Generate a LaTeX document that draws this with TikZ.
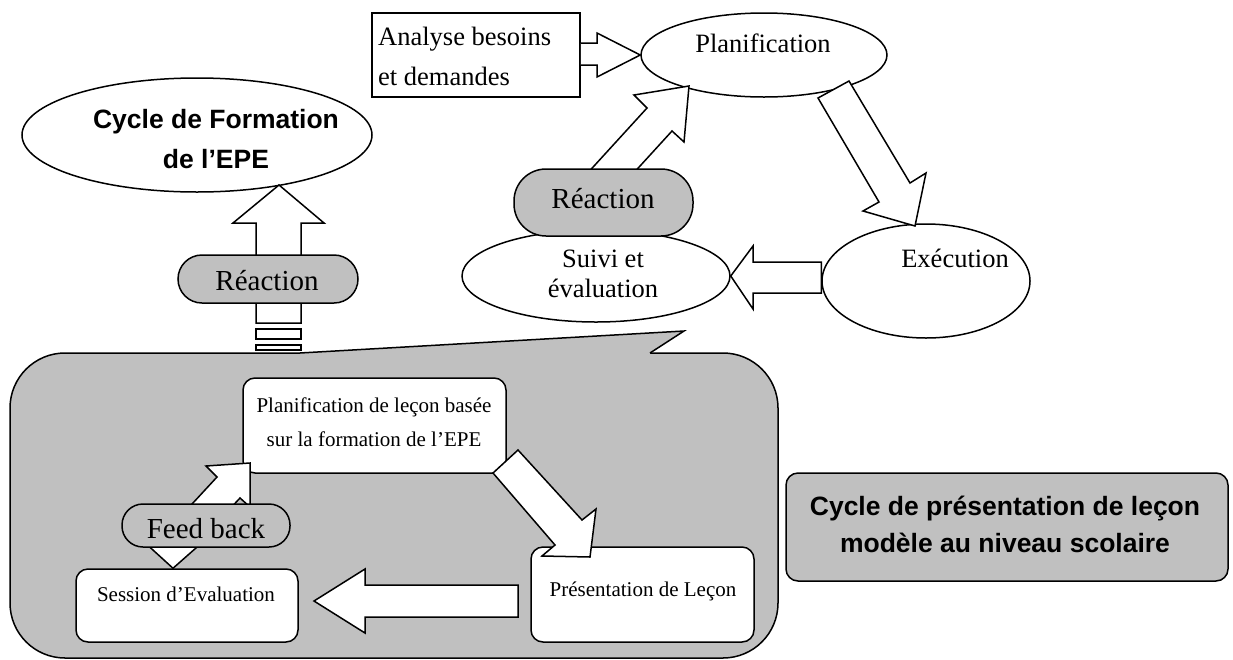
\documentclass[tikz,border=0pt]{standalone}
\usepackage{fontspec}
\setmainfont{Liberation Serif}
\newfontfamily\headfont{Liberation Sans}
\usetikzlibrary{shapes.geometric}
\definecolor{panelgray}{HTML}{C0C0C0}

\tikzset{
  outline/.style={draw=black, line width=1.5pt, line join=miter},
  blockarrow/.style={outline, fill=white},
  oval/.style={ellipse, outline, fill=white, inner sep=0pt},
  pill/.style={rectangle, outline, fill=panelgray, inner sep=0pt},
  card/.style={rectangle, outline, fill=white, rounded corners=12pt, inner sep=0pt},
  plainbox/.style={rectangle, outline, fill=white, inner sep=0pt},
  txt/.style={anchor=base, inner sep=0pt, font=\fontsize{26.5}{30}\selectfont},
  txtleft/.style={anchor=base west, inner sep=0pt, font=\fontsize{26.5}{30}\selectfont},
  pilltxt/.style={anchor=base, inner sep=0pt, font=\fontsize{29}{32}\selectfont},
  smalltxt/.style={anchor=base, inner sep=0pt, font=\fontsize{21}{24}\selectfont},
  headtxt/.style={anchor=base, inner sep=0pt, font=\headfont\bfseries\fontsize{26.5}{30}\selectfont},
}

\begin{document}
\begin{tikzpicture}[x=1pt,y=-1pt]
\useasboundingbox (0,0) rectangle (1233,659);

% ---------- upper-right planning cycle ----------
\node[plainbox, minimum width=208pt, minimum height=84pt] (ana) at (476,55) {};
\node[txtleft] (anaA) at (378,45) {Analyse besoins};
\node[txtleft] (anaB) at (378,85) {et demandes};

\node[oval, minimum width=246pt, minimum height=84pt] (plan) at (764,55) {};
\node[txt] (planT) at (763,52) {Planification};

\node[oval, minimum width=208pt, minimum height=114pt] (exec) at (926,281) {};
\node[txt] (execT) at (955,267) {Exécution};

\node[oval, minimum width=268pt, minimum height=92pt] (suivi) at (596,276) {};
\node[txt] (suiviA) at (603,267) {Suivi et};
\node[txt] (suiviB) at (603,297) {évaluation};

% analysis feeds planning
\filldraw[blockarrow] (ana.east |- 0,43) -- (597,43) -- (597,33) -- (plan.west)
  -- (597,77) -- (597,65) -- (ana.east |- 0,65);

% planning -> execution
\filldraw[blockarrow] (818,98) -- (879,202) -- (863,211) -- (915,226)
  -- (926,173) -- (910,183) -- (849,81) -- cycle;

% execution -> monitoring
\filldraw[blockarrow] (exec.west |- 0,262) -- (753,262) -- (753,246) -- (suivi.east)
  -- (753,309) -- (753,293) -- (exec.west |- 0,293) -- cycle;

% monitoring -> planning (feedback)
\filldraw[blockarrow] (563,200) -- (647,108) -- (634,95) -- (689,86)
  -- (684,142) -- (672,131) -- (609,200) -- cycle;

\node[pill, rounded corners=32pt, minimum width=179pt, minimum height=67pt] (reacR) at (603.5,202.5) {};
\node[pilltxt] (reacRT) at (603,208) {Réaction};

% ---------- upper-left title ----------
\node[oval, minimum width=350pt, minimum height=114pt] (cyc) at (197,135) {};
\node[headtxt] (cycA) at (216,128) {Cycle de Formation};
\node[headtxt] (cycB) at (216,168) {de l’EPE};

% striped up arrow towards the title
\filldraw[blockarrow] (256,323) -- (256,223) -- (233,223) -- (279,185)
  -- (324,223) -- (301,223) -- (301,323) -- cycle;
\filldraw[blockarrow] (256,329) rectangle (301,339);
\filldraw[blockarrow] (256,345) rectangle (301,350);

\node[pill, rounded corners=24pt, minimum width=180pt, minimum height=48pt] (reacL) at (268,279) {};
\node[pilltxt] (reacLT) at (267,290) {Réaction};

% ---------- lower callout panel ----------
\filldraw[outline, fill=panelgray, rounded corners=55pt] (10,353) rectangle (778,658);
\fill[panelgray] (300,356) -- (300,353) -- (684,331) -- (650,353) -- (650,356) -- cycle;
\coordinate (ptip) at (684,331);
\draw[outline] (300,353) -- (ptip) -- (650,353);

\node[card, minimum width=263pt, minimum height=95pt] (lplan) at (374.5,425.5) {};
\node[smalltxt] (lplanA) at (374,412) {Planification de leçon basée};
\node[smalltxt] (lplanB) at (374,446) {sur la formation de l’EPE};

\node[card, minimum width=223pt, minimum height=95pt] (pres) at (642.5,594.5) {};
\node[smalltxt] (presT) at (643,596) {Présentation de Leçon};

\node[card, minimum width=222pt, minimum height=73pt] (sess) at (187,605.5) {};
\node[smalltxt] (sessT) at (186,601) {Session d’Evaluation};

% lesson planning -> presentation
\filldraw[blockarrow] (493,473) -- (555,545) -- (542,556) -- (590,557)
  -- (596,509) -- (582,520) -- (518,450) -- cycle;

% presentation -> evaluation
\filldraw[blockarrow] (518,585) -- (365,585) -- (365,569) -- (314,601)
  -- (365,633) -- (365,617) -- (518,617) -- cycle;

% feedback between evaluation and lesson planning
\filldraw[blockarrow] (142,540) -- (sess.north -| 173,570) -- (205,540) -- cycle;
\filldraw[blockarrow] (168,530) -- (217,477) -- (206,466) -- (250,463)
  -- (250,507) -- (240,498) -- (210,530) -- cycle;

\node[pill, rounded corners=21pt, minimum width=168pt, minimum height=43pt] (feed) at (206,525.5) {};
\node[pilltxt] (feedT) at (206,538) {Feed back};

% ---------- side caption ----------
\node[pill, rounded corners=12pt, minimum width=442pt, minimum height=108pt] (side) at (1007,527) {};
\node[headtxt] (sideA) at (1005,515) {Cycle de présentation de leçon};
\node[headtxt] (sideB) at (1005,552) {modèle au niveau scolaire};
\end{tikzpicture}
\end{document}
